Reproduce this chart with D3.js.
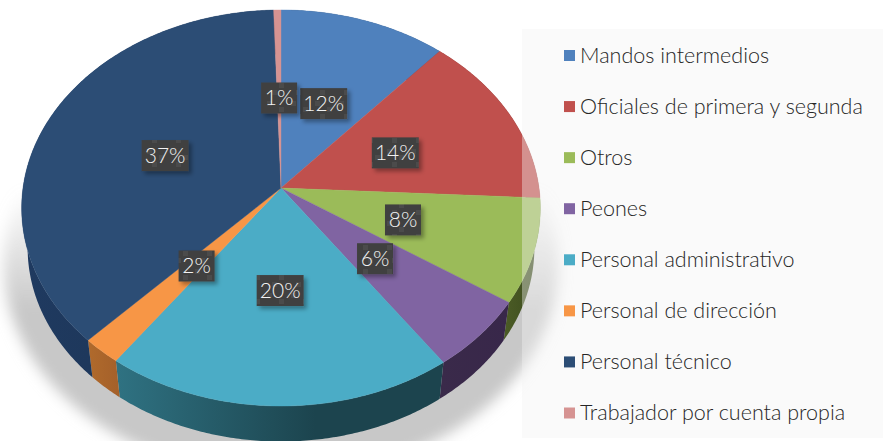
<!DOCTYPE html>
<html><head><meta charset="utf-8">
<script src="https://cdn.jsdelivr.net/npm/d3@7/dist/d3.min.js"></script>
<style>html,body{margin:0;padding:0;background:#fff}svg{display:block}text{font-family:Lato,"Open Sans",sans-serif}</style>
</head><body><svg id="c" width="883" height="441"></svg>
<script>
const categories = ["Mandos intermedios","Oficiales de primera y segunda","Otros","Peones","Personal administrativo","Personal de dirección","Personal técnico","Trabajador por cuenta propia"];
const values = [11.5,14.3,8.5,5.9,19.8,2.2,37.3,0.5];
const valueLabels = ["12%","14%","8%","6%","20%","2%","37%","1%"];
const colors = ["#4f81bd","#c0504d","#9bbb59","#8064a2","#4bacc6","#f79646","#2c4d75","#d69392"];
const wallLeft = ["#2c4a6e","#6e2c2a","#4c5c26","#3a2a4a","#2f7282","#b06a2c","#1f3a60","#8a5a58"];
const wallRight = ["#2c4a6e","#6e2c2a","#3a4a1c","#38274a","#1c444e","#a4602a","#1c3454","#8a5a58"];

const W=883,H=441,cx=281,cy=188,rx=258,ry=196,k=0.101;
const svg=d3.select("#c");
const defs=svg.append("defs");
const blur=defs.append("filter").attr("id","blur").attr("filterUnits","userSpaceOnUse").attr("x",-80).attr("y",0).attr("width",760).attr("height",600);
blur.append("feGaussianBlur").attr("stdDeviation",7);
const shGrad=defs.append("linearGradient").attr("id","shGrad").attr("gradientUnits","userSpaceOnUse").attr("x1",0).attr("x2",0).attr("y1",190).attr("y2",310);
shGrad.append("stop").attr("offset",0).attr("stop-color","#c8c8c8").attr("stop-opacity",0);
shGrad.append("stop").attr("offset",1).attr("stop-color","#c8c8c8").attr("stop-opacity",1);
const lab=defs.append("filter").attr("id","lab").attr("x","-30%").attr("y","-30%").attr("width","170%").attr("height","170%");
lab.append("feDropShadow").attr("dx",3).attr("dy",3).attr("stdDeviation",2).attr("flood-color","#000").attr("flood-opacity",.35);
const pat=defs.append("pattern").attr("id","tile").attr("patternUnits","userSpaceOnUse").attr("width",24).attr("height",24);
pat.append("rect").attr("width",24).attr("height",24).attr("fill","#404040");
[[3,5],[15,11],[8,18]].forEach(p=>pat.append("rect").attr("x",p[0]).attr("y",p[1]).attr("width",5).attr("height",5).attr("fill","#4b4b4b"));

// perspective projection of the pie disc
const project=(a,r,scale=1,dy=0)=>{
  const X=Math.sin(a)*r,Y=-Math.cos(a)*r,s=1/(1-k*Y);
  return [cx+rx*X*s*scale, cy+ry*Y*s*scale+dy];
};
const pie=d3.pie().sort(null).value(d=>d);
const slices=pie(values);
const line=d3.line();
const rimScale=0.977,rimDrop=40.5;
const arcPts=(d,scale,dy)=>{
  const n=Math.max(2,Math.ceil((d.endAngle-d.startAngle)/0.01));
  return d3.range(n+1).map(i=>project(d.startAngle+(d.endAngle-d.startAngle)*i/n,1,scale,dy));
};

// ground shadow
const ring=d3.range(0,2*Math.PI+.02,.02).map(a=>project(a,1,1.07,55));
svg.append("path").attr("d",line(ring)+"Z").attr("fill","url(#shGrad)").attr("filter","url(#blur)");

// walls
slices.forEach((d,i)=>{
  const top=arcPts(d,1,0),bot=arcPts(d,rimScale,rimDrop).reverse();
  const xs=top.concat(bot).map(p=>p[0]);
  const g=defs.append("linearGradient").attr("id","w"+i).attr("gradientUnits","userSpaceOnUse")
    .attr("x1",d3.min(xs)).attr("x2",Math.min(d3.max(xs),d3.min(xs)+200)).attr("y1",0).attr("y2",0);
  g.append("stop").attr("offset",0).attr("stop-color",wallLeft[i]);
  g.append("stop").attr("offset",1).attr("stop-color",wallRight[i]);
  svg.append("path").attr("d",line(top.concat(bot))+"Z").attr("fill",`url(#w${i})`);
});
// top faces
slices.forEach((d,i)=>{
  svg.append("path").attr("d",line([[cx,cy],...arcPts(d,1,0)])+"Z").attr("fill",colors[i]).attr("stroke",colors[i]).attr("stroke-width",.4);
});

// value labels
const labelR=0.49;
slices.forEach((d,i)=>{
  const [x,yy]=project((d.startAngle+d.endAngle)/2,labelR);
  const y=yy+1.5;
  const bw=valueLabels[i].length===2?36:47,bh=31;
  const g=svg.append("g");
  g.append("rect").attr("x",x-bw/2).attr("y",y-bh/2).attr("width",bw).attr("height",bh).attr("fill","url(#tile)").attr("filter","url(#lab)");
  g.append("text").attr("x",x).attr("y",y+7).attr("text-anchor","middle").attr("font-size",21).attr("font-weight",300).attr("fill","#f2f2f2").text(valueLabels[i]);
});

// legend
svg.append("rect").attr("x",522).attr("y",29).attr("width",361).attr("height",409).attr("fill","#f2f2f2").attr("fill-opacity",.4);
const legendY=d3.scalePoint().domain(categories).range([55.5,413]);
categories.forEach((c,i)=>{
  const y=legendY(c);
  svg.append("rect").attr("x",564).attr("y",y-5.5).attr("width",11).attr("height",11).attr("fill",colors[i]);
  svg.append("text").attr("x",580).attr("y",y+7).attr("font-size",21.5).attr("font-weight",300).attr("fill","#262626").text(c);
});
</script></body></html>
